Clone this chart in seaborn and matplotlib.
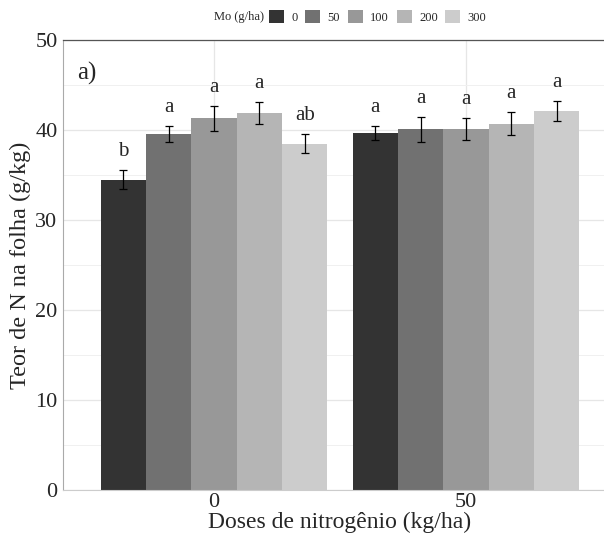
import pandas as pd
import matplotlib
matplotlib.use("Agg")
import matplotlib.pyplot as plt
import seaborn as sns
from matplotlib.ticker import MultipleLocator

# dados
doses_n = ["0", "50"]
mo_levels = ["0", "50", "100", "200", "300"]
teor_n0 = [34.5, 39.6, 41.3, 41.9, 38.5]
teor_n50 = [39.7, 40.1, 40.1, 40.7, 42.1]
erro_n0 = [1.1, 0.9, 1.4, 1.2, 1.1]
erro_n50 = [0.8, 1.4, 1.2, 1.3, 1.1]
letras_n0 = ["b", "a", "a", "a", "ab"]
letras_n50 = ["a", "a", "a", "a", "a"]
cores = ["#333333", "#717171", "#989898", "#b5b5b5", "#cccccc"]

rows = []
for dose, teores, erros, letras in [("0", teor_n0, erro_n0, letras_n0),
                                    ("50", teor_n50, erro_n50, letras_n50)]:
    for mo, t, e, l in zip(mo_levels, teores, erros, letras):
        rows.append({"N": dose, "Mo": mo, "teor": t, "erro": e, "letra": l})
df = pd.DataFrame(rows)

sns.set_style("white")
plt.rcParams["font.family"] = ["Liberation Serif", "DejaVu Serif"]

fig = plt.figure(figsize=(6.04, 5.44), dpi=100)
ax = fig.add_axes([63 / 604, 1 - 490 / 544, (617 - 63) / 604, 450 / 544])

sns.barplot(data=df, x="N", y="teor", hue="Mo", order=doses_n,
            hue_order=mo_levels, palette=cores, width=0.9, errorbar=None,
            saturation=1, linewidth=0, ax=ax)

# barras de erro e letras a partir das barras desenhadas
bars = [p for p in ax.patches if p.get_height() > 0]
bars = sorted(bars, key=lambda p: p.get_x())
df_sorted = df.copy()
df_sorted["ordem"] = df_sorted["N"].map({"0": 0, "50": 1}) * 10 + df_sorted["Mo"].map(
    {m: i for i, m in enumerate(mo_levels)})
df_sorted = df_sorted.sort_values("ordem")
for p, (_, r) in zip(bars, df_sorted.iterrows()):
    xc = p.get_x() + p.get_width() / 2
    ax.errorbar(xc, r["teor"], yerr=r["erro"], color="black", lw=0.9,
                capsize=3, capthick=0.9)
    ax.text(xc, r["teor"] + r["erro"] + 1.0, r["letra"], ha="center",
            va="bottom", fontsize=15)

ax.set_ylim(0, 50)
ax.set_xlim(-0.6, 1.6)
ax.yaxis.set_major_locator(MultipleLocator(10))
ax.yaxis.set_minor_locator(MultipleLocator(5))
ax.set_axisbelow(True)
ax.grid(which="major", color="#e6e6e6", lw=0.9)
ax.grid(which="minor", axis="y", color="#f0f0f0", lw=0.7)

ax.spines["right"].set_visible(False)
ax.spines["left"].set_color("#aaaaaa")
ax.spines["bottom"].set_color("#cccccc")
ax.spines["top"].set_color("#555555")
ax.spines["top"].set_linewidth(0.9)

ax.tick_params(axis="y", which="major", length=3, color="#aaaaaa",
               labelsize=16, pad=1)
ax.tick_params(axis="y", which="minor", length=0)
ax.tick_params(axis="x", length=0, labelsize=16, pad=2)
ax.set_xlabel("Doses de nitrogênio (kg/ha)", fontsize=17, labelpad=0)
ax.set_ylabel("Teor de N na folha (g/kg)", fontsize=17.5, labelpad=3)

ax.text(0.025, 0.925, "a)", transform=ax.transAxes, fontsize=18,
        ha="left", va="center")

handles, labels = ax.get_legend_handles_labels()
ax.get_legend().remove()
fig.legend(handles, labels, ncol=5, loc="center left",
           bbox_to_anchor=(269 / 604, 1 - 17 / 544), frameon=False,
           fontsize=9, handlelength=1.2, handleheight=1.2,
           handletextpad=0.6, columnspacing=0.6, borderaxespad=0,
           borderpad=0)
fig.text(264 / 604, 1 - 17 / 544, "Mo (g/ha)", ha="right", va="center",
         fontsize=9)

fig.savefig("out.png", dpi=100)
